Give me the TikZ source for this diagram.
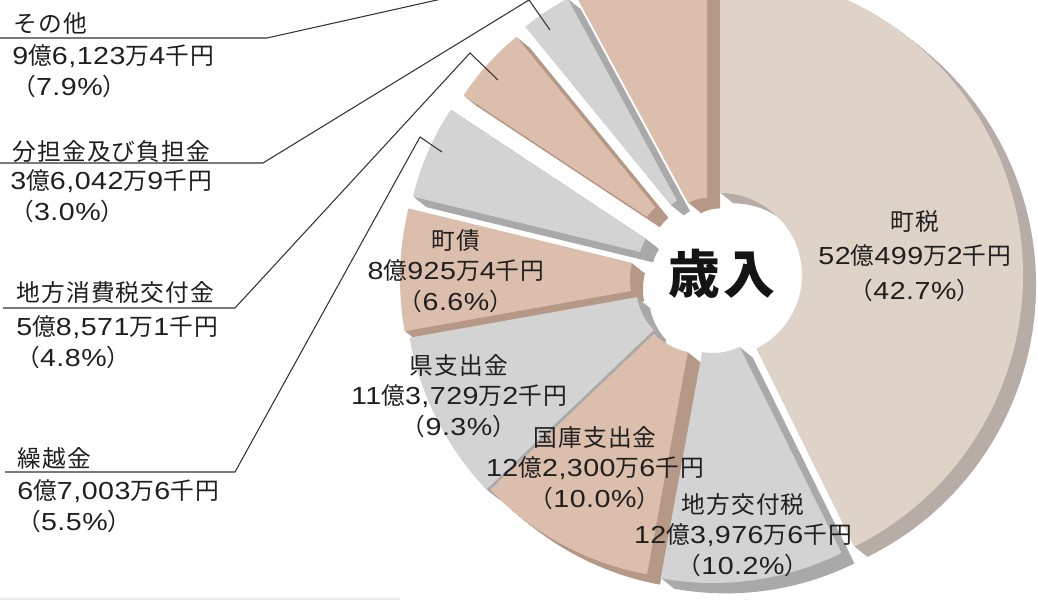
\documentclass[tikz,border=0pt]{standalone}
\usepackage{fontspec}
\setmainfont{Noto Sans CJK JP}[LetterSpace=5]
\newfontfamily\latinfont{Liberation Sans}[FakeStretch=1.16, Scale=1.04, LetterSpace=2]
\newcommand{\dg}[1]{{\latinfont #1}}
\usetikzlibrary{calc}

\definecolor{taxface}{HTML}{DFD2C7}
\definecolor{taxside}{HTML}{B8ADA6}
\definecolor{tanface}{HTML}{DBBEAB}
\definecolor{tanside}{HTML}{B69886}
\definecolor{grayface}{HTML}{D3D3D3}
\definecolor{grayside}{HTML}{A9A9A9}

% #1 apex, #2 from, #3 to, #4 inner radius, #5 outer radius, #6 colour
\newcommand{\revslice}[6]{%
  \foreach \k in {1,...,13}
    \fill[#6side, shift={(\k,-0.8*\k)}] #1 ++(#2:#5) arc[start angle=#2, end angle=#3, radius=#5]
      -- ($#1+(#3:#4)$) arc[start angle=#3, end angle=#2, radius=#4] -- cycle;
  \fill[#6face] #1 ++(#2:#5) arc[start angle=#2, end angle=#3, radius=#5]
    -- ($#1+(#3:#4)$) arc[start angle=#3, end angle=#2, radius=#4] -- cycle;
}

\begin{document}
\begin{tikzpicture}[x=0.02cm, y=0.02cm,
    leader/.style={draw=black!80, line width=0.6pt},
    lbl/.style={font=\fontsize{13.5}{17.5}\selectfont, text=black!88, inner sep=0pt},
    inlbl/.style={lbl, align=center}]
  \useasboundingbox (0,0) rectangle (1038,601);
  \clip (0,0) rectangle (1038,601);

  % slices, back to front
  \revslice{(681,339)}{146.5}{166.3}{42}{276}{gray}
  \revslice{(682,361)}{129.2}{146.5}{42}{262}{tan}
  \revslice{(696,365)}{118.4}{129.2}{40}{270}{gray}
  \revslice{(707,363)}{90}{118.4}{40}{290}{tan}
  \revslice{(698,322)}{166.3}{190.1}{68}{298}{tan}
  \revslice{(700,315)}{-169.9}{-136.4}{64}{295}{gray}
  \revslice{(699,310)}{-136.4}{-100.4}{62}{288}{tan}
  \revslice{(720,326)}{-63.7}{90}{82}{303}{tax}
  \revslice{(713,308)}{-100.4}{-63.7}{60}{290}{gray}

  \draw[black!8, line width=1.5pt] (0,2) -- (400,2);

  \node[font=\fontsize{29.5}{30}\selectfont\bfseries, text=black!92] (sainyu) at (722,327) {歳入};

  % labels in the slices
  \node[inlbl, font=\fontsize{13.5}{19.5}\selectfont] (chozei) at (915,345) {町税\\\dg{52}億\dg{499}万\dg{2}千円\\（\dg{42.7\%}）};
  \node[inlbl] (kofuzei) at (743,66) {地方交付税\\\dg{12}億\dg{3,976}万\dg{6}千円\\（\dg{10.2\%}）};
  \node[inlbl] (kokko) at (595,133) {国庫支出金\\\dg{12}億\dg{2,300}万\dg{6}千円\\（\dg{10.0\%}）};
  \node[inlbl] (ken) at (459,205) {県支出金\\\dg{11}億\dg{3,729}万\dg{2}千円\\（\dg{9.3\%}）};
  \node[inlbl] (chosai) at (456,330) {町債\\\dg{8}億\dg{925}万\dg{4}千円\\（\dg{6.6\%}）};

  % labels on the left
  \node[lbl, anchor=west] (sonota) at (13,578) {その他};
  \node[lbl, anchor=west, align=left] (sonotaV) at (12,530) {\dg{9}億\dg{6,123}万\dg{4}千円\\（\dg{7.9\%}）};
  \node[lbl, anchor=west] (buntan) at (12,449) {分担金及び負担金};
  \node[lbl, anchor=west, align=left] (buntanV) at (10,405) {\dg{3}億\dg{6,042}万\dg{9}千円\\（\dg{3.0\%}）};
  \node[lbl, anchor=west] (shohi) at (16,308) {地方消費税交付金};
  \node[lbl, anchor=west, align=left] (shohiV) at (16,259) {\dg{5}億\dg{8,571}万\dg{1}千円\\（\dg{4.8\%}）};
  \node[lbl, anchor=west] (kurikoshi) at (17,143) {繰越金};
  \node[lbl, anchor=west, align=left] (kurikoshiV) at (17,95) {\dg{6}億\dg{7,003}万\dg{6}千円\\（\dg{5.5\%}）};

  % leader lines
  \coordinate (sonotaL) at (0,563);
  \coordinate (sonotaK) at (267,563);
  \coordinate (sonotaE) at (473,609);
  \coordinate (buntanL) at (0,438);
  \coordinate (buntanK) at (263,438);
  \coordinate (buntanM) at (529,601);
  \coordinate (buntanE) at (550,571);
  \coordinate (shohiL) at (3,293);
  \coordinate (shohiK) at (235,293);
  \coordinate (shohiM) at (470,548);
  \coordinate (shohiE) at (498,521);
  \coordinate (kurikoshiL) at (5,129);
  \coordinate (kurikoshiK) at (235,129);
  \coordinate (kurikoshiM) at (420,464);
  \coordinate (kurikoshiE) at (442,449);
  \draw[leader] (sonotaL) -- (sonotaK) -- (sonotaE);
  \draw[leader] (buntanL) -- (buntanK) -- (buntanM) -- (buntanE);
  \draw[leader] (shohiL) -- (shohiK) -- (shohiM) -- (shohiE);
  \draw[leader] (kurikoshiL) -- (kurikoshiK) -- (kurikoshiM) -- (kurikoshiE);
\end{tikzpicture}
\end{document}
